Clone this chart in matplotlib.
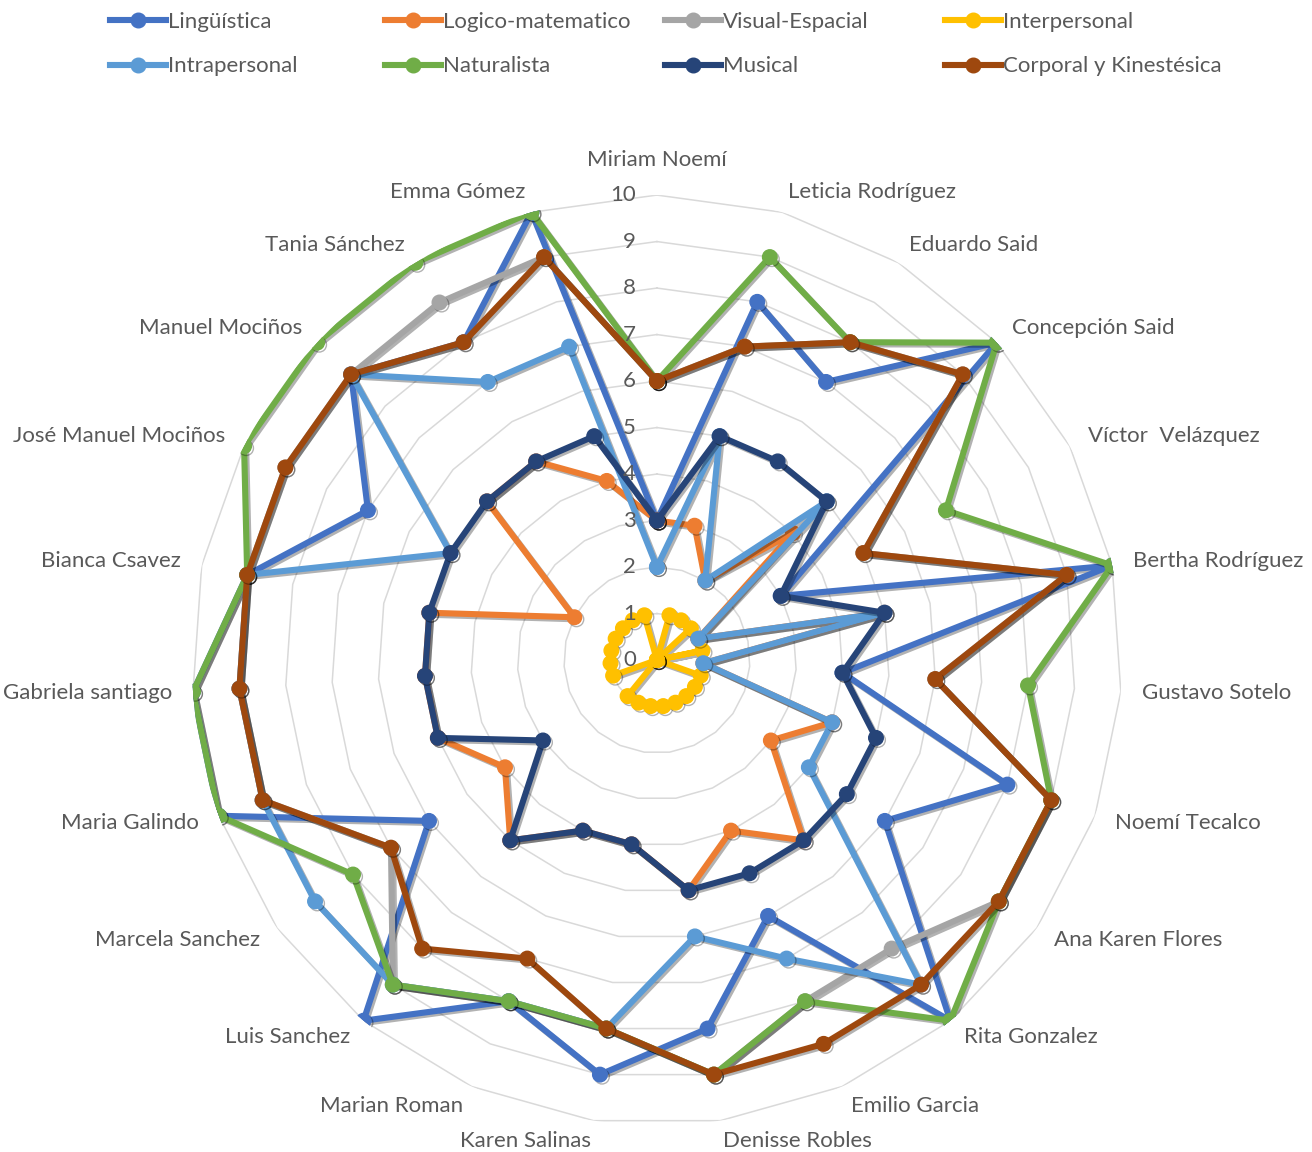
import numpy as np
import matplotlib
matplotlib.use('Agg')
import matplotlib.pyplot as plt
import matplotlib.patheffects as pe
from matplotlib.lines import Line2D

plt.rcParams['font.family'] = ['Lato', 'DejaVu Sans']

# alumnos (ejes del radar, en sentido horario desde arriba)
alumnos = ['Miriam Noemí', 'Leticia Rodríguez', 'Eduardo Said', 'Concepción Said',
           'Víctor  Velázquez', 'Bertha Rodríguez', 'Gustavo Sotelo', 'Noemí Tecalco',
           'Ana Karen Flores', 'Rita Gonzalez', 'Emilio Garcia', 'Denisse Robles',
           'Karen Salinas', 'Marian Roman', 'Luis Sanchez', 'Marcela Sanchez',
           'Maria Galindo', 'Gabriela santiago', 'Bianca Csavez', 'José Manuel Mociños',
           'Manuel Mociños', 'Tania Sánchez', 'Emma Gómez']

# puntajes por inteligencia
linguistica = [3, 8, 7, 10, 3, 10, 4, 8, 6, 10, 6, 8, 9, 8, 10, 6, 10, 10, 9, 7, 9, 8, 10]
logico = [3, 3, 2, 4, 1, 5, 1, 4, 3, 5, 4, 5, 4, 4, 5, 4, 5, 5, 5, 2, 5, 5, 4]
visual = [6, 7, 8, 9, 5, 9, 6, 9, 9, 8, 8, 9, 8, 8, 9, 7, 9, 9, 9, 9, 9, 9, 9]
interpersonal = [0, 1, 1, 1, 0, 1, 0, 1, 1, 1, 1, 1, 1, 1, 1, 0, 1, 1, 1, 1, 1, 1, 1]
intrapersonal = [2, 5, 2, 5, 1, 5, 1, 4, 4, 9, 7, 6, 8, 8, 9, 9, 9, 9, 9, 5, 9, 7, 7]
naturalista = [6, 9, 8, 10, 7, 10, 8, 9, 9, 10, 8, 9, 8, 8, 9, 8, 10, 10, 9, 10, 10, 10, 10]
musical = [3, 5, 5, 5, 3, 5, 4, 5, 5, 5, 5, 5, 4, 4, 5, 3, 5, 5, 5, 5, 5, 5, 5]
corporal = [6, 7, 8, 9, 5, 9, 6, 9, 9, 9, 9, 9, 8, 7, 8, 7, 9, 9, 9, 9, 9, 8, 9]

series = [
    ('Lingüística', linguistica, '#4472C4'),
    ('Logico-matematico', logico, '#ED7D31'),
    ('Visual-Espacial', visual, '#A5A5A5'),
    ('Interpersonal', interpersonal, '#FFC000'),
    ('Intrapersonal', intrapersonal, '#5B9BD5'),
    ('Naturalista', naturalista, '#70AD47'),
    ('Musical', musical, '#264478'),
    ('Corporal y Kinestésica', corporal, '#9E480E'),
]

txt = '#595959'
fs = 16
lw = 4.4
ms = 10.5

fig = plt.figure(figsize=(13.12, 11.52), dpi=100)
ax = fig.add_axes([0.1463, 0.0234, 0.7088, 0.8073], projection='polar')
ax.set_theta_zero_location('N')
ax.set_theta_direction(-1)

n = len(alumnos)
theta = np.arange(n) * 2 * np.pi / n
theta_c = np.append(theta, theta[0])

# rejilla poligonal
for v in range(1, 11):
    ax.plot(theta_c, [v] * (n + 1), color='#D9D9D9', lw=1.1, zorder=0)

shadow = [pe.SimpleLineShadow(offset=(1.5, -1.5), shadow_color='black', alpha=0.3), pe.Normal()]
for i, (name, vals, col) in enumerate(series):
    vv = np.append(vals, vals[0])
    ax.plot(theta_c, vv, color=col, lw=lw, marker='o', ms=ms,
            zorder=2 + i, path_effects=shadow)

ax.set_ylim(0, 10)
ax.set_xticks([])
ax.set_yticks([])
ax.grid(False)
ax.spines['polar'].set_visible(False)

# etiquetas de escala
for v in range(11):
    ax.annotate(str(v), xy=(0, v), xytext=(-15, 0), textcoords='offset points',
                ha='right', va='center', fontsize=fs, color=txt, zorder=20)

# nombres
for t, lab in zip(theta, alumnos):
    s = np.sin(t)
    if abs(s) < 0.05:
        ax.text(t, 10.75, lab, ha='center', va='center', fontsize=fs, color=txt)
    else:
        ax.text(t, 10.45, lab, ha='left' if s > 0 else 'right', va='center',
                fontsize=fs, color=txt)

# leyenda en 4 columnas
handles = [Line2D([], [], color=c, lw=lw, marker='o', ms=ms) for _, _, c in series]
names = [s[0] for s in series]
xs = [110, 385, 665, 945]
for j in range(4):
    lg = fig.legend([handles[j], handles[j + 4]], [names[j], names[j + 4]],
                    loc='upper left', bbox_to_anchor=(xs[j] / 1312, 1 - 12 / 1152),
                    frameon=False, fontsize=fs, handlelength=2.5, handletextpad=0.12,
                    labelspacing=1.1, borderpad=0, borderaxespad=0)
    for t in lg.get_texts():
        t.set_color(txt)

fig.savefig('out.png', dpi=100)
